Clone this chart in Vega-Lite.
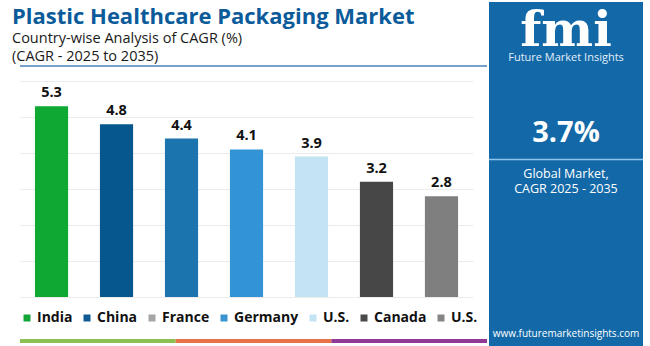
{
  "$schema": "https://vega.github.io/schema/vega-lite/v6.json",
  "background": "white",
  "padding": {"top": 2, "left": 0, "right": 0, "bottom": 0},
  "config": {
    "view": {"stroke": null},
    "font": "Open Sans"
  },
  "spacing": 0,
  "resolve": {"scale": {"color": "independent", "fill": "independent", "y": "independent"}, "legend": {"color": "independent", "fill": "independent"}},
  "hconcat": [
    {
      "columns": 1,
      "spacing": 14,
      "resolve": {"scale": {"color": "independent", "fill": "independent", "x": "independent", "y": "independent"}, "legend": {"color": "independent", "fill": "independent"}},
      "concat": [
        {
          "width": 467,
          "height": 64,
          "data": {
            "values": [
              {"slot": "title", "label": "Plastic Healthcare Packaging Market"},
              {"slot": "sub", "label": "Country-wise Analysis of CAGR (%)\n(CAGR - 2025 to 2035)"},
              {"slot": "line", "label": ""}
            ]
          },
          "encoding": {
            "y": {"field": "slot", "type": "nominal", "axis": null, "scale": {"type": "point", "domain": ["title", "sub", "line"], "padding": 0}}
          },
          "layer": [
            {
              "transform": [{"filter": "datum.slot == 'title'"}],
              "mark": {"type": "text", "align": "left", "baseline": "alphabetic", "dx": -8, "dy": 21.5, "font": "Open Sans", "fontSize": 22, "fontWeight": "bold", "color": "#0b5b9a"},
              "encoding": {
                "x": {"datum": 0, "type": "quantitative", "scale": {"domain": [0, 1], "nice": false}, "axis": null},
                "text": {"field": "label"}
              }
            },
            {
              "transform": [{"filter": "datum.slot == 'sub'"}],
              "mark": {"type": "text", "align": "left", "baseline": "alphabetic", "dx": -8, "dy": 9, "lineBreak": "\n", "lineHeight": 18, "font": "Open Sans", "fontSize": 14.5, "color": "#1a1a1a"},
              "encoding": {
                "x": {"datum": 0, "type": "quantitative", "scale": {"domain": [0, 1], "nice": false}, "axis": null},
                "text": {"field": "label"}
              }
            },
            {
              "transform": [{"filter": "datum.slot == 'line'"}],
              "mark": {"type": "rule", "color": "#4a82b6", "strokeWidth": 1.5},
              "encoding": {}
            }
          ]
        },
        {
          "width": 453,
          "height": 216,
          "data": {
            "values": [
              {"key": "India", "cagr": 5.3},
              {"key": "China", "cagr": 4.8},
              {"key": "France", "cagr": 4.4},
              {"key": "Germany", "cagr": 4.1},
              {"key": "U.S.", "cagr": 3.9},
              {"key": "Canada", "cagr": 3.2},
              {"key": "U.S. (2)", "cagr": 2.8}
            ]
          },
          "encoding": {
            "x": {
              "field": "key", "type": "nominal", "sort": null, "axis": null,
              "scale": {"paddingInner": 0.49, "paddingOuter": 0.23}
            },
            "y": {
              "field": "cagr", "type": "quantitative",
              "scale": {"domain": [0, 6], "nice": false},
              "axis": {
                "values": [0, 1, 2, 3, 4, 5, 6], "labels": false, "ticks": false, "domain": false,
                "title": null, "grid": true, "gridColor": "#ebebeb", "gridWidth": 1,
                "minExtent": 20, "maxExtent": 20
              }
            }
          },
          "layer": [
            {
              "mark": {"type": "bar"},
              "encoding": {
                "fill": {
                  "field": "key", "type": "nominal", "sort": null, "legend": null,
                  "scale": {
                    "range": ["#0fa832", "#05578d", "#1b74ad", "#3394d5", "#c4e3f3", "#474747", "#7f7f7f"]
                  }
                }
              }
            },
            {
              "mark": {"type": "square", "filled": true, "opacity": 0, "size": 10},
              "encoding": {
                "y": {"datum": 0, "type": "quantitative"},
                "color": {
                  "field": "key", "type": "nominal", "sort": null,
                  "scale": {
                    "domain": ["India", "China", "France", "Germany", "U.S.", "Canada", "U.S. (2)"],
                    "range": ["#12a537", "#0f5a93", "#a6a6a6", "#3a93d0", "#c4e3f3", "#4a4a4a", "#858585"]
                  },
                  "legend": {
                    "title": null,
                    "orient": "bottom",
                    "direction": "horizontal",
                    "offset": 14,
                    "symbolType": "square",
                    "symbolSize": 49,
                    "symbolOpacity": 1,
                    "symbolStrokeWidth": 0,
                    "labelFont": "Open Sans",
                    "labelFontSize": 14,
                    "labelFontWeight": "bold",
                    "labelColor": "#111111",
                    "labelOffset": 3,
                    "columnPadding": 7,
                    "labelExpr": "datum.label == 'U.S. (2)' ? 'U.S.' : datum.label"
                  }
                }
              }
            },
            {
              "mark": {"type": "text", "baseline": "alphabetic", "dy": -9, "font": "Open Sans", "fontSize": 14.5, "fontWeight": "bold", "color": "#111111"},
              "encoding": {
                "text": {"field": "cagr", "type": "quantitative", "format": ".1f"}
              }
            }
          ]
        },
        {
          "width": 467,
          "height": 4,
          "data": {"values": [{"seg": "a"}, {"seg": "b"}, {"seg": "c"}]},
          "mark": {"type": "bar"},
          "encoding": {
            "x": {"field": "seg", "type": "nominal", "axis": null, "scale": {"paddingInner": 0, "paddingOuter": 0}},
            "color": {"field": "seg", "type": "nominal", "legend": null, "scale": {"domain": ["a", "b", "c"], "range": ["#8cc152", "#e8734a", "#8e3a96"]}}
          }
        }
      ]
    },
    {
      "width": 154,
      "height": 344,
      "view": {"fill": "#1369a8", "stroke": null},
      "data": {
        "values": [
          {"slot": "logo", "kind": "logo", "label": "fmi"},
          {"slot": "brand", "kind": "brand", "label": "Future Market Insights"},
          {"slot": "value", "kind": "value", "label": "3.7%"},
          {"slot": "rule", "kind": "rule", "label": ""},
          {"slot": "sub1", "kind": "sub", "label": "Global Market,"},
          {"slot": "sub2", "kind": "sub", "label": "CAGR 2025 - 2035"},
          {"slot": "url", "kind": "url", "label": "www.futuremarketinsights.com"}
        ]
      },
      "encoding": {
        "y": {
          "field": "slot", "type": "nominal", "axis": null,
          "scale": {
            "type": "point",
            "domain": ["lead", "logo", "g1", "brand", "g2", "g3", "g4", "g5", "value", "g6", "rule", "sub1", "sub2", "g7", "g8", "g9", "g10", "g11", "g12", "g13", "g14", "g15", "url"],
            "padding": 0.821
          }
        }
      },
      "layer": [
        {
          "transform": [{"filter": "datum.kind == 'rule'"}],
          "mark": {"type": "rule", "color": "#8ec3ea", "strokeWidth": 1.5}
        },
        {
          "transform": [{"filter": "datum.kind == 'logo'"}],
          "mark": {"type": "text", "baseline": "alphabetic", "dy": 18, "font": "DejaVu Serif", "fontSize": 49, "fontWeight": "bold", "color": "#ffffff"},
          "encoding": {"text": {"field": "label"}}
        },
        {
          "transform": [{"filter": "datum.kind == 'brand'"}],
          "mark": {"type": "text", "baseline": "middle", "font": "Open Sans", "fontSize": 11, "color": "#e3eef8"},
          "encoding": {"text": {"field": "label"}}
        },
        {
          "transform": [{"filter": "datum.kind == 'value'"}],
          "mark": {"type": "text", "baseline": "middle", "dy": 3, "font": "Open Sans", "fontSize": 29, "fontWeight": "bold", "color": "#ffffff"},
          "encoding": {"text": {"field": "label"}}
        },
        {
          "transform": [{"filter": "datum.kind == 'sub'"}],
          "mark": {"type": "text", "baseline": "middle", "font": "Open Sans", "fontSize": 12.5, "color": "#ffffff"},
          "encoding": {"text": {"field": "label"}}
        },
        {
          "transform": [{"filter": "datum.kind == 'url'"}],
          "mark": {"type": "text", "baseline": "middle", "font": "Open Sans", "fontSize": 10, "color": "#ffffff"},
          "encoding": {"text": {"field": "label"}}
        }
      ]
    }
  ]
}
